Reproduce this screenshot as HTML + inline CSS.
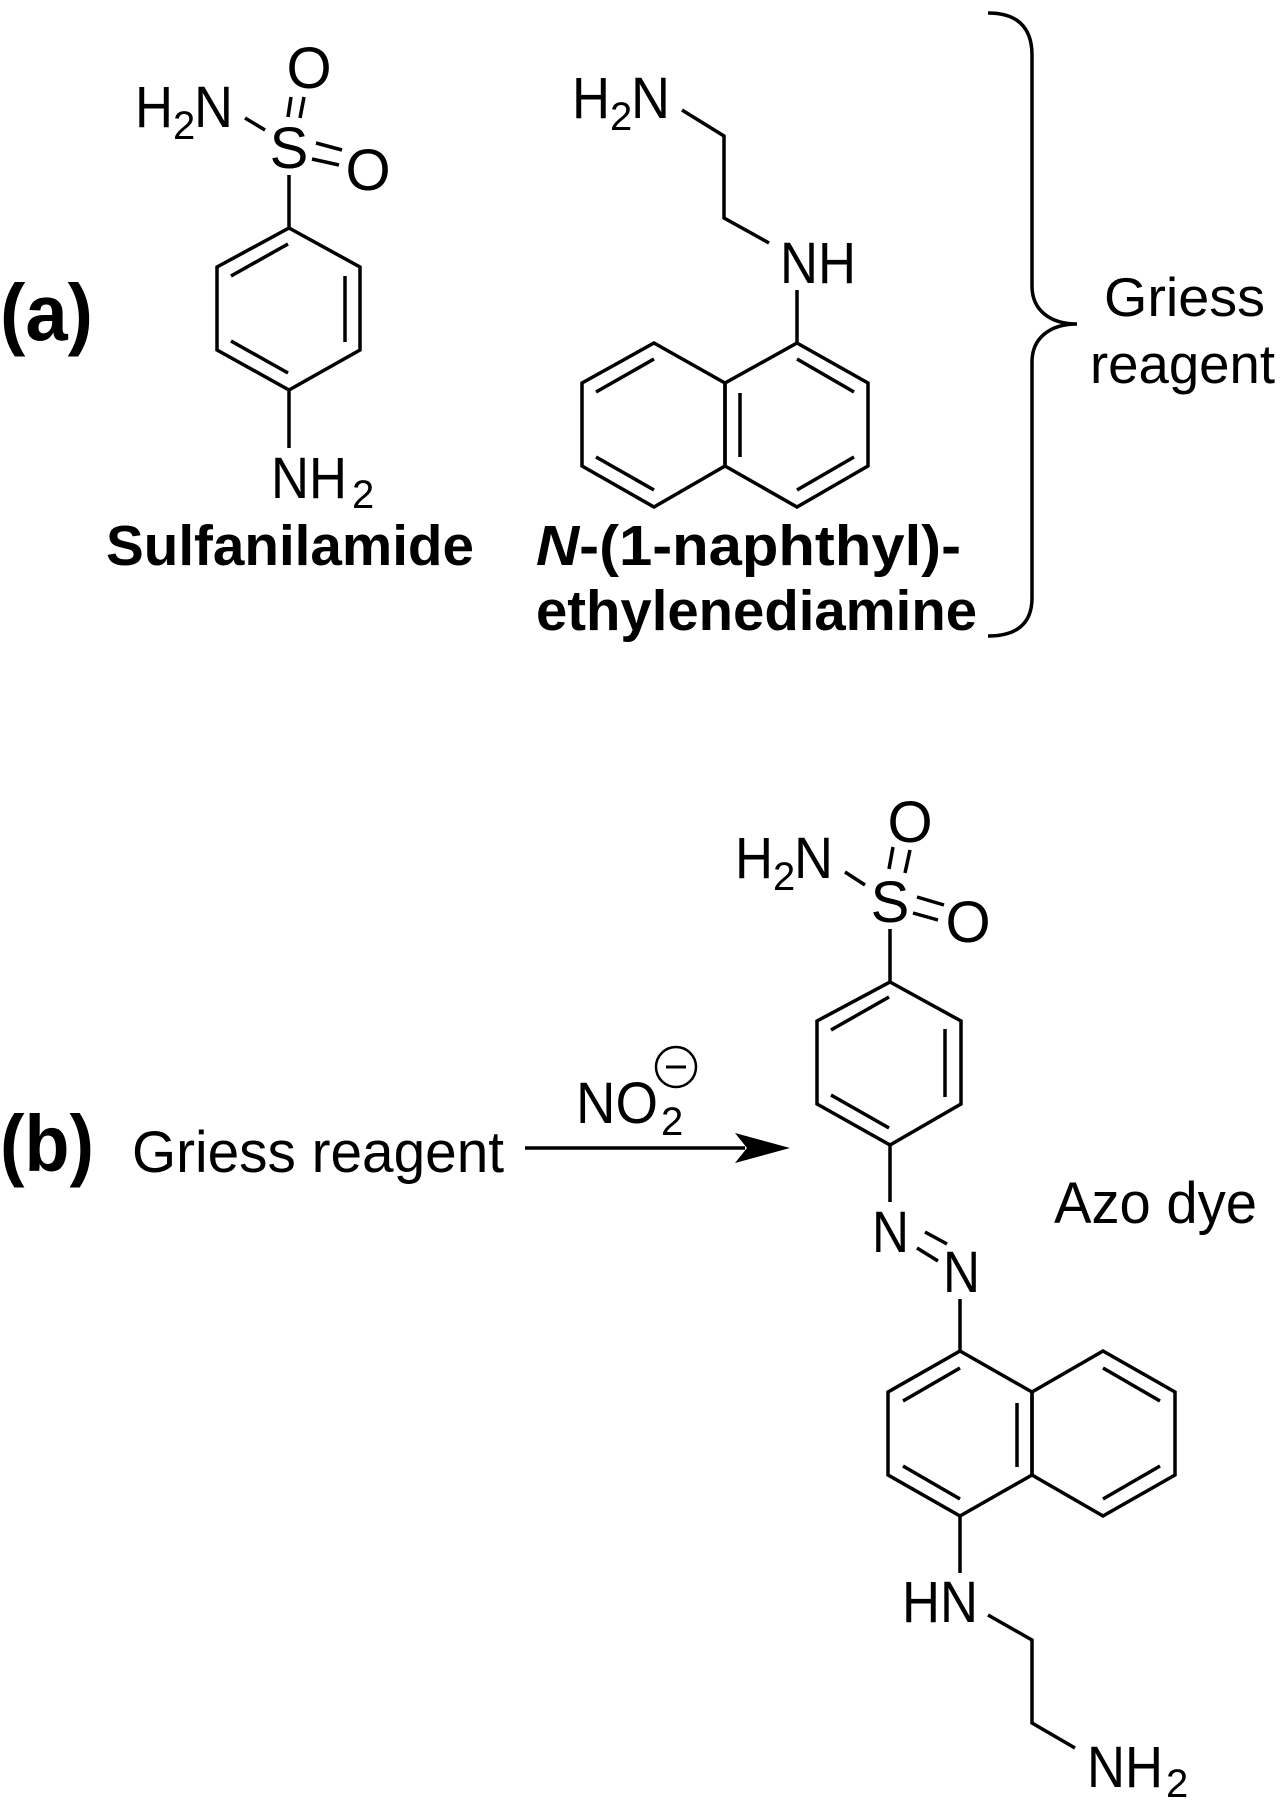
<!DOCTYPE html>
<html><head><meta charset="utf-8"><style>
html,body{margin:0;padding:0;background:#fff;}
svg{display:block;}
text{font-family:"Liberation Sans",Arial,sans-serif;fill:#000;}
</style></head><body>
<svg width="1282" height="1800" viewBox="0 0 1282 1800" xmlns="http://www.w3.org/2000/svg">
<g stroke="#000" stroke-width="3.5" fill="none" stroke-linecap="butt" stroke-linejoin="miter">
<polygon points="289,228 360,267 360,350 289,390 217,350 217,267"/>
<line x1="231" y1="276" x2="288" y2="244"/>
<line x1="345" y1="276" x2="345" y2="342"/>
<line x1="231" y1="341" x2="288" y2="373"/>
<line x1="289" y1="175" x2="289" y2="228"/>
<line x1="289" y1="390" x2="289" y2="448"/>
<line x1="245" y1="118" x2="265" y2="130"/>
<line x1="291" y1="97" x2="288" y2="117"/>
<line x1="304" y1="97" x2="300" y2="118"/>
<line x1="316" y1="143" x2="342" y2="150"/>
<line x1="312" y1="159" x2="339" y2="165"/>
<polygon points="797,343 868,383 868,466 797,507 725,466 725,383"/>
<polygon points="654,343 725,383 725,466 654,507 582,466 582,383"/>
<line x1="596" y1="392" x2="654" y2="359"/>
<line x1="596" y1="457" x2="654" y2="490"/>
<line x1="740" y1="393" x2="740" y2="457"/>
<line x1="797" y1="359" x2="854" y2="392"/>
<line x1="854" y1="457" x2="797" y2="490"/>
<line x1="797" y1="290" x2="797" y2="343"/>
<polyline points="682,110 724,136 724,218 769,243"/>
<path d="M988,13 C1015,13 1032,25 1032,55 L1032,286 C1032,310 1050,324 1077,324 C1050,324 1032,338 1032,362 L1032,598 C1032,625 1015,636 988,636"/>
<line x1="525" y1="1148" x2="745" y2="1148"/>
<polygon points="890,982 961,1021 961,1104 890,1145 817,1104 817,1021"/>
<line x1="831" y1="1030" x2="889" y2="997"/>
<line x1="945" y1="1029" x2="945" y2="1097"/>
<line x1="831" y1="1095" x2="889" y2="1128"/>
<line x1="890" y1="929" x2="890" y2="982"/>
<line x1="890" y1="1145" x2="890" y2="1202"/>
<line x1="845" y1="872" x2="865" y2="885"/>
<line x1="893" y1="847" x2="889" y2="869"/>
<line x1="910" y1="850" x2="905" y2="873"/>
<line x1="917" y1="897" x2="944" y2="905"/>
<line x1="913" y1="913" x2="938" y2="920"/>
<line x1="925" y1="1232" x2="947" y2="1244"/>
<line x1="917" y1="1248" x2="938" y2="1261"/>
<polygon points="960,1351 1032,1392 1032,1475 960,1516 888,1475 888,1392"/>
<polygon points="1103,1351 1175,1392 1175,1475 1103,1516 1032,1475 1032,1392"/>
<line x1="903" y1="1401" x2="960" y2="1368"/>
<line x1="1017" y1="1403" x2="1017" y2="1467"/>
<line x1="903" y1="1466" x2="960" y2="1499"/>
<line x1="1103" y1="1368" x2="1160" y2="1401"/>
<line x1="1160" y1="1466" x2="1103" y2="1499"/>
<line x1="960" y1="1299" x2="960" y2="1351"/>
<line x1="960" y1="1516" x2="960" y2="1573"/>
<polyline points="988,1615 1032,1640 1032,1723 1075,1748"/>
<circle cx="676" cy="1067" r="20" stroke-width="2.5"/>
<line x1="666" y1="1067" x2="686" y2="1067" stroke-width="3"/>
</g>
<polygon points="790,1148 735,1133 747,1148 735,1163" fill="#000"/>

<text x="0" y="340" font-size="80" font-weight="bold" textLength="93" lengthAdjust="spacingAndGlyphs">(a)</text>
<text x="135" y="127" font-size="58" textLength="38" lengthAdjust="spacingAndGlyphs">H</text><text x="173" y="139" font-size="40">2</text><text x="194" y="127" font-size="58" textLength="39" lengthAdjust="spacingAndGlyphs">N</text>
<text x="289" y="168" font-size="58" text-anchor="middle">S</text>
<text x="309" y="88" font-size="58" text-anchor="middle">O</text>
<text x="368" y="190" font-size="58" text-anchor="middle">O</text>
<text x="271" y="498" font-size="58" textLength="76" lengthAdjust="spacingAndGlyphs">NH</text><text x="352" y="508" font-size="40">2</text>
<text x="106" y="565" font-size="57" font-weight="bold" textLength="368" lengthAdjust="spacingAndGlyphs">Sulfanilamide</text>
<text x="572" y="118" font-size="58" textLength="38" lengthAdjust="spacingAndGlyphs">H</text><text x="610" y="130" font-size="40">2</text><text x="631" y="118" font-size="58" textLength="39" lengthAdjust="spacingAndGlyphs">N</text>
<text x="780" y="283" font-size="58" textLength="76" lengthAdjust="spacingAndGlyphs">NH</text>
<text x="536" y="565" font-size="57" font-weight="bold" textLength="425" lengthAdjust="spacingAndGlyphs"><tspan font-style="italic">N</tspan>-(1-naphthyl)-</text>
<text x="536" y="630" font-size="57" font-weight="bold" textLength="441" lengthAdjust="spacingAndGlyphs">ethylenediamine</text>
<text x="1104" y="316" font-size="55" textLength="161" lengthAdjust="spacingAndGlyphs">Griess</text>
<text x="1090" y="383" font-size="55" textLength="185" lengthAdjust="spacingAndGlyphs">reagent</text>

<text x="0" y="1171" font-size="80" font-weight="bold" textLength="94" lengthAdjust="spacingAndGlyphs">(b)</text>
<text x="132" y="1172" font-size="58" textLength="372" lengthAdjust="spacingAndGlyphs">Griess reagent</text>
<text x="576" y="1123" font-size="58" textLength="82" lengthAdjust="spacingAndGlyphs">NO</text><text x="661" y="1135" font-size="40">2</text>
<text x="735" y="878" font-size="58" textLength="38" lengthAdjust="spacingAndGlyphs">H</text><text x="773" y="890" font-size="40">2</text><text x="794" y="878" font-size="58" textLength="39" lengthAdjust="spacingAndGlyphs">N</text>
<text x="890" y="922" font-size="58" text-anchor="middle">S</text>
<text x="910" y="842" font-size="58" text-anchor="middle">O</text>
<text x="968" y="942" font-size="58" text-anchor="middle">O</text>
<text x="872" y="1252" font-size="58" textLength="37" lengthAdjust="spacingAndGlyphs">N</text>
<text x="943" y="1292" font-size="58" textLength="37" lengthAdjust="spacingAndGlyphs">N</text>
<text x="1054" y="1223" font-size="58" textLength="203" lengthAdjust="spacingAndGlyphs">Azo dye</text>
<text x="902" y="1622" font-size="58" textLength="76" lengthAdjust="spacingAndGlyphs">HN</text>
<text x="1087" y="1787" font-size="58" textLength="76" lengthAdjust="spacingAndGlyphs">NH</text><text x="1166" y="1797" font-size="40">2</text>
</svg>
</body></html>
